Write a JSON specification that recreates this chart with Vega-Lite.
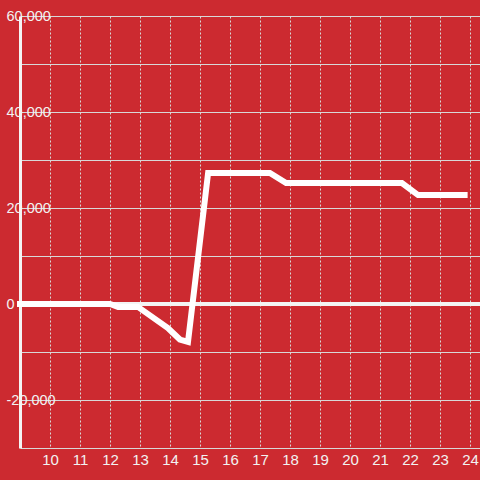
{
  "$schema": "https://vega.github.io/schema/vega-lite/v6.json",
  "width": 460,
  "height": 432,
  "autosize": {"type": "none"},
  "padding": {"left": 20, "top": 16, "right": 0, "bottom": 32},
  "background": "#CC2A30",
  "config": {"view": {"stroke": null}},
  "data": {
    "values": [
      {"hour": 9, "value": 0},
      {"hour": 12, "value": 0},
      {"hour": 12.27, "value": -600},
      {"hour": 12.93, "value": -600},
      {"hour": 13.93, "value": -5000},
      {"hour": 14.33, "value": -7400},
      {"hour": 14.6, "value": -7900},
      {"hour": 15.27, "value": 27300},
      {"hour": 17.33, "value": 27300},
      {"hour": 17.87, "value": 25200},
      {"hour": 21.73, "value": 25200},
      {"hour": 22.27, "value": 22700},
      {"hour": 23.82, "value": 22700}
    ]
  },
  "layer": [
    {
      "mark": {"type": "rule", "color": "#f4f4f4", "strokeWidth": 3},
      "encoding": {"y": {"datum": 0, "type": "quantitative"}}
    },
    {
      "mark": {"type": "line", "color": "#ffffff", "strokeWidth": 6, "strokeCap": "square", "strokeJoin": "miter"},
      "encoding": {
        "x": {
          "field": "hour",
          "type": "quantitative",
          "scale": {"domain": [9, 24.333], "nice": false, "zero": false},
          "axis": {
            "title": null,
            "values": [10, 11, 12, 13, 14, 15, 16, 17, 18, 19, 20, 21, 22, 23, 24],
            "domain": false,
            "ticks": false,
            "tickSize": 0,
            "labelPadding": 4,
            "labelFont": "Liberation Sans",
            "labelFontSize": 15,
            "labelColor": "#f2f2f2",
            "labelFlush": false,
            "labelOverlap": false,
            "labelBound": false,
            "grid": true,
            "gridColor": "#d8d8d8",
            "gridWidth": 1,
            "gridDash": [2, 2]
          }
        },
        "y": {
          "field": "value",
          "type": "quantitative",
          "scale": {"domain": [-30000, 60000], "nice": false, "zero": false},
          "axis": {
            "title": null,
            "values": [-30000, -20000, -10000, 0, 10000, 20000, 30000, 40000, 50000, 60000],
            "format": ",d",
            "labelExpr": "datum.value % 20000 === 0 ? replace(datum.label, '−', '-') : ''",
            "domain": true,
            "domainColor": "#f4f4f4",
            "domainWidth": 3,
            "ticks": false,
            "tickSize": 0,
            "labelAlign": "left",
            "labelBaseline": "middle",
            "labelPadding": 14,
            "labelFont": "Liberation Sans",
            "labelFontSize": 14.5,
            "labelColor": "#f2f2f2",
            "labelFlush": false,
            "labelOverlap": false,
            "labelBound": false,
            "grid": true,
            "gridColor": "#d8d8d8",
            "gridWidth": 1
          }
        }
      }
    }
  ]
}
